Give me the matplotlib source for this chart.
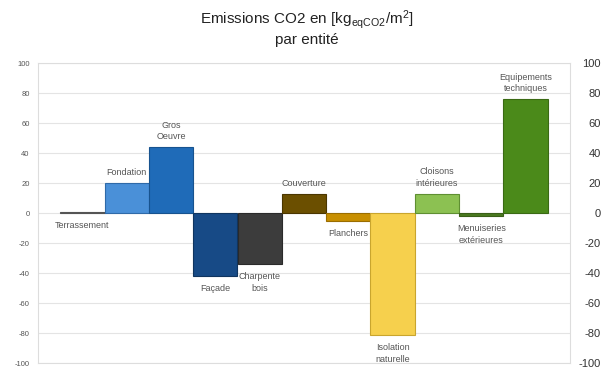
import matplotlib
matplotlib.use('Agg')
import matplotlib.pyplot as plt

# ---- données (kgeqCO2/m2) ----
ENTITES = [
    'Terrassement', 'Fondation', 'Gros\nOeuvre', 'Façade', 'Charpente\nbois',
    'Couverture', 'Planchers', 'Isolation\nnaturelle', 'Cloisons\nintérieures',
    'Menuiseries\nextérieures', 'Equipements\ntechniques',
]
EMISSIONS = [0.5, 20, 44, -42, -34, 13, -5, -81, 13, -2, 76]
COULEURS = [
    '#555555', '#4a90d8', '#1f6bb8', '#174a86', '#3c3c3c', '#6b4f00',
    '#c88f00', '#f6d04d', '#8cc152', '#4a7a20', '#4b8a1a',
]
BORDS = [
    '#555555', '#2f6aa8', '#17538f', '#10355f', '#2a2a2a', '#4a3600',
    '#9a6d00', '#c9a52e', '#5f8f32', '#3a5f18', '#3a6a14',
]
TICKS = list(range(-100, 101, 20))

FONT = ['Liberation Sans Narrow', 'Liberation Sans', 'DejaVu Sans']
plt.rcParams['font.family'] = FONT
plt.rcParams['mathtext.fontset'] = 'custom'
plt.rcParams['mathtext.rm'] = 'Liberation Sans'
plt.rcParams['mathtext.it'] = 'Liberation Sans'
plt.rcParams['axes.unicode_minus'] = False

fig = plt.figure(figsize=(6.02, 3.69), dpi=100)
ax = fig.add_axes([38 / 602, 6 / 369, 532 / 602, 300 / 369])

x = list(range(len(ENTITES)))
ax.bar(x, EMISSIONS, width=1.0, color=COULEURS, edgecolor=BORDS, linewidth=0.8, zorder=3)

# étiquettes au-dessus / en dessous des barres
for xi, val, lab in zip(x, EMISSIONS, ENTITES):
    if val > 1:
        ax.annotate(lab, (xi, val), xytext=(0, 4), textcoords='offset points',
                    ha='center', va='bottom', fontsize=6.5, color='#555555',
                    linespacing=1.4, zorder=4)
    else:
        ax.annotate(lab, (xi, min(val, 0)), xytext=(0, -6), textcoords='offset points',
                    ha='center', va='top', fontsize=6.5, color='#555555',
                    linespacing=1.4, zorder=4)

ax.set_xlim(-1, len(ENTITES))
ax.set_ylim(-100, 100)
ax.set_xticks([])
ax.set_yticks(TICKS)
ax.tick_params(axis='y', length=0, labelsize=5.5, labelcolor='#555555', pad=6)
ax.grid(axis='y', color='#e4e4e4', lw=0.8, zorder=0)
for s in ax.spines.values():
    s.set_color('#dddddd')
    s.set_linewidth(0.8)

# axe de droite, collé au bord de l'image
ax2 = ax.twinx()
ax2.set_ylim(-100, 100)
ax2.set_yticks(TICKS)
ax2.tick_params(axis='y', length=0, labelsize=8, labelcolor='#333333', pad=22.3)
plt.setp(ax2.get_yticklabels(), ha='right')
for s in ax2.spines.values():
    s.set_visible(False)

fig.text(0.51, 0.935, r'Emissions CO2 en [kg$_{\mathrm{eqCO2}}$/m$^{\mathrm{2}}$]',
         ha='center', va='baseline', fontsize=11, color='#222222')
fig.text(0.51, 0.88, 'par entité', ha='center', va='baseline',
         fontsize=11, color='#222222')

fig.savefig('out.png', dpi=100)
